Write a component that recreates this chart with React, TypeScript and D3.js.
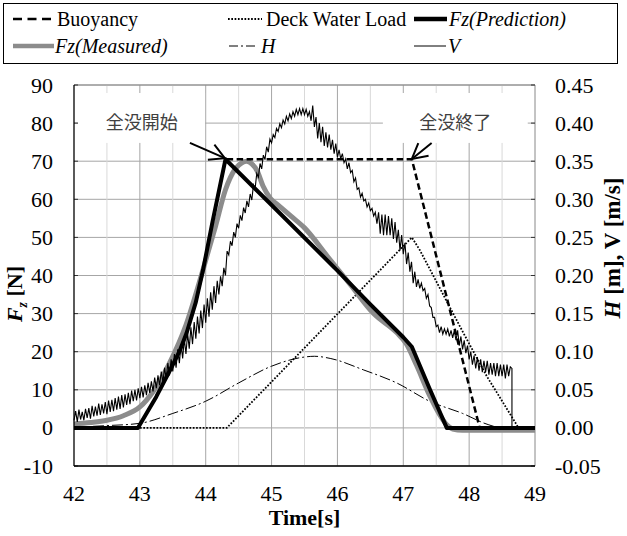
import React from "react";
import * as d3 from "d3";

// ---------------- data ----------------
const timeTicks = [42, 43, 44, 45, 46, 47, 48, 49];
const gridTimes = [42.5, 43, 43.5, 44, 44.5, 45, 45.5, 46, 46.5, 47, 47.5, 48, 48.5];
const forceTicks = [-10, 0, 10, 20, 30, 40, 50, 60, 70, 80, 90];
const rightTicks = [-0.05, 0, 0.05, 0.1, 0.15, 0.2, 0.25, 0.3, 0.35, 0.4, 0.45];

const buoyancyTime = [42, 42.97, 43.1, 43.25, 43.46, 43.6, 43.71, 43.85, 43.96, 44.1, 44.3, 47.13, 48.16, 49];
const buoyancyValue = [0, 0, 3.8, 8.2, 15.2, 20, 24.9, 33, 41.5, 53.8, 70.5, 70.5, 0, 0];

const deckTime = [42, 44.32, 47.13, 47.25, 47.91, 48.27, 48.52, 48.75, 49];
const deckValue = [0, 0, 50, 46.7, 25, 13.5, 6.5, 0, 0];

const predictionTime = [42, 42.97, 43.1, 43.25, 43.46, 43.6, 43.71, 43.85, 43.96, 44.1, 44.3, 45.0, 46.0, 46.5, 47.0, 47.13, 47.4, 47.66, 49];
const predictionValue = [0, 0, 3.8, 8.2, 15.2, 20, 24.9, 33, 41.5, 53.8, 70.5, 58.5, 41.3, 32.4, 23.8, 21.3, 10.3, 0, 0];

const measuredTime = [42, 42.25, 42.5, 42.75, 43, 43.2, 43.45, 43.7, 43.95, 44.15, 44.3, 44.45, 44.55, 44.62, 44.7, 44.78, 44.87, 44.98, 45.1, 45.3, 45.5, 45.85, 46.2, 46.55, 46.9, 47.05, 47.2, 47.4, 47.55, 47.66, 47.75, 47.9, 48.2, 49];
const measuredValue = [1, 1.4, 2, 3.2, 5.5, 9.5, 17, 27, 41, 53, 62.5, 68, 69.6, 70, 69.3, 67.5, 63.5, 60.3, 58.5, 55.5, 52.5, 45, 37.5, 30, 25, 22, 16.5, 8.5, 3.5, 0.8, -0.3, -0.6, -0.6, -0.6];

const hTime = [42, 42.5, 43, 43.5, 44, 44.5, 45, 45.5, 45.65, 45.9, 46.4, 46.9, 47.4, 47.9, 48.3, 48.5, 49];
const hValue = [0.001, 0.003, 0.006, 0.019, 0.035, 0.059, 0.081, 0.093, 0.094, 0.091, 0.076, 0.059, 0.035, 0.019, 0.004, 0.0, 0.0];

// V [m/s], sampled every 0.025 s from 42.000 s to 48.650 s
const vStart = 42;
const vStep = 0.025;
const vValue = [
  0.010, 0.022, 0.008, 0.024, 0.011, 0.021, 0.010, 0.025, 0.013, 0.026,
  0.012, 0.029, 0.015, 0.028, 0.016, 0.032, 0.017, 0.031, 0.019, 0.034,
  0.018, 0.036, 0.021, 0.037, 0.022, 0.039, 0.024, 0.041, 0.025, 0.043,
  0.027, 0.044, 0.030, 0.046, 0.031, 0.049, 0.035, 0.050, 0.036, 0.052,
  0.039, 0.054, 0.040, 0.056, 0.043, 0.059, 0.046, 0.061, 0.048, 0.066,
  0.052, 0.069, 0.056, 0.074, 0.060, 0.079, 0.064, 0.085, 0.069, 0.090,
  0.074, 0.097, 0.079, 0.103, 0.085, 0.110, 0.091, 0.117, 0.097, 0.124,
  0.104, 0.132, 0.110, 0.139, 0.117, 0.146, 0.124, 0.154, 0.131, 0.162,
  0.138, 0.170, 0.146, 0.178, 0.155, 0.186, 0.164, 0.193, 0.175, 0.199,
  0.186, 0.210, 0.200,
  // 44.325 - 45.000
  0.232, 0.227, 0.245, 0.239, 0.257, 0.250, 0.268, 0.262, 0.279, 0.272,
  0.289, 0.282, 0.298, 0.290, 0.307, 0.299, 0.319, 0.314, 0.334, 0.329,
  0.347, 0.340, 0.358, 0.352, 0.369, 0.362, 0.379, 0.374,
  // 45.025 - 45.500
  0.385, 0.381, 0.393, 0.389, 0.399, 0.394, 0.404, 0.399, 0.409, 0.403,
  0.412, 0.406, 0.415, 0.409, 0.418, 0.411, 0.419, 0.411, 0.419, 0.411,
  // 45.525 - 45.600
  0.418, 0.409, 0.415, 0.403,
  // 45.625 - 45.800
  0.423, 0.395, 0.408, 0.380, 0.400, 0.375, 0.395, 0.370,
  // 45.825 - 46.600
  0.388, 0.368, 0.385, 0.365,
  0.378, 0.360, 0.373, 0.355,
  0.365, 0.353, 0.360, 0.348,
  0.353, 0.340, 0.348, 0.335,
  0.338, 0.323, 0.328, 0.313,
  0.315, 0.303, 0.308, 0.298,
  0.300, 0.290, 0.295, 0.285,
  0.288, 0.278, 0.283, 0.268,
  // 46.625 - 47.200
  0.283, 0.255, 0.280, 0.253,
  0.280, 0.253, 0.278, 0.253,
  0.275, 0.248, 0.270, 0.243,
  0.260, 0.233, 0.253, 0.228,
  0.243, 0.215, 0.230, 0.205,
  0.218, 0.190, 0.205, 0.185,
  // 47.225 - 47.800
  0.195, 0.183, 0.190, 0.180,
  0.183, 0.170, 0.175, 0.160,
  0.158, 0.145, 0.145, 0.133,
  0.135, 0.125, 0.133, 0.123,
  0.130, 0.123, 0.130, 0.120,
  0.128, 0.118, 0.128, 0.115,
  // 47.825 - 48.650
  0.128, 0.108, 0.120, 0.103,
  0.115, 0.098, 0.108, 0.090,
  0.100, 0.083, 0.095, 0.078,
  0.093, 0.075, 0.090, 0.073,
  0.088, 0.073, 0.088, 0.070,
  0.085, 0.070, 0.085, 0.068,
  0.085, 0.068, 0.083, 0.068,
  0.083, 0.065, 0.083, 0.068,
  0.080, 0.078,
];
const vTailTime = [48.65, 49];
const vTailValue = [0, 0];

const annotations = [
  { label: "全没開始", textT: 43.03, textF: 80.4, boxT0: 42.06, boxT1: 43.99, boxF0: 74.8, boxF1: 87.9, fromT: 43.76, fromF: 74.8, toT: 44.29, toF: 70.8 },
  { label: "全没終了", textT: 47.79, textF: 80.4, boxT0: 46.69, boxT1: 48.89, boxF0: 74.8, boxF1: 87.9, fromT: 47.43, fromF: 74.8, toT: 47.13, toF: 70.6 },
];

// ---------------- chart ----------------
const SERIF = "'Liberation Serif', 'Times New Roman', 'DejaVu Serif', serif";
const CJK = "'Noto Sans CJK JP', 'Noto Sans CJK SC', sans-serif";

export default function App() {
  const x = d3.scaleLinear().domain([42, 49]).range([74, 535]);
  const yL = d3.scaleLinear().domain([-10, 90]).range([466, 85]);
  const yR = d3.scaleLinear().domain([-0.05, 0.45]).range([466, 85]);

  const mk = (ts: number[], vs: number[], y: d3.ScaleLinear<number, number>, curve: d3.CurveFactory = d3.curveLinear) =>
    d3.line<number>().x((_, i) => x(ts[i])).y((d) => y(d)).curve(curve)(vs) || "";

  const vTimes = vValue.map((_, i) => vStart + i * vStep).concat(vTailTime);
  const vAll = vValue.concat(vTailValue);

  const buoyancyPath = mk(buoyancyTime, buoyancyValue, yL);
  const deckPath = mk(deckTime, deckValue, yL);
  const predPath = mk(predictionTime, predictionValue, yL);
  const measPath = mk(measuredTime, measuredValue, yL, d3.curveMonotoneX);
  const hPath = mk(hTime, hValue, yR, d3.curveMonotoneX);
  const vPath = mk(vTimes, vAll, yR);

  const [x0, x1] = x.range();
  const [yb, yt] = yL.range();

  const arrowHead = (fx: number, fy: number, tx: number, ty: number) => {
    const a = Math.atan2(ty - fy, tx - fx);
    const L = 17, s = 0.5;
    const p1 = [tx - L * Math.cos(a - s), ty - L * Math.sin(a - s)];
    const p2 = [tx - L * Math.cos(a + s), ty - L * Math.sin(a + s)];
    return `M${p1[0]},${p1[1]}L${tx},${ty}L${p2[0]},${p2[1]}`;
  };

  const serif = (size: number, extra: React.CSSProperties = {}): React.CSSProperties => ({ fontFamily: SERIF, fontSize: size, ...extra });

  return (
    <svg width={627} height={536} style={{ position: "absolute", left: 0, top: 0, background: "#fff" }}>
      <rect x={0} y={0} width={627} height={536} fill="#fff" />
      {/* legend */}
      <g fill="#000">
        <rect x={3.5} y={3.5} width={614} height={60} fill="#fff" stroke="#000" strokeWidth={1} />
        <line x1={13} x2={51} y1={19} y2={19} stroke="#000" strokeWidth={2.5} strokeDasharray="9,5.5" />
        <text x={57} y={26} style={serif(20)}>Buoyancy</text>
        <line x1={228} x2={262} y1={19} y2={19} stroke="#000" strokeWidth={1.8} strokeDasharray="1.7,1.6" />
        <text x={266} y={26} style={serif(20)}>Deck Water Load</text>
        <line x1={414} x2={447} y1={19} y2={19} stroke="#000" strokeWidth={4.5} />
        <text x={449} y={26} style={serif(20, { fontStyle: "italic" })}>Fz(Prediction)</text>
        <line x1={13} x2={54} y1={46} y2={46} stroke="#8c8c8c" strokeWidth={4.5} />
        <text x={55} y={53} style={serif(20, { fontStyle: "italic" })}>Fz(Measured)</text>
        <line x1={229} x2={258} y1={46} y2={46} stroke="#000" strokeWidth={1} strokeDasharray="9,3,2,3" />
        <text x={261} y={53} style={serif(20, { fontStyle: "italic" })}>H</text>
        <line x1={414} x2={446} y1={46} y2={46} stroke="#000" strokeWidth={1} />
        <text x={448} y={53} style={serif(20, { fontStyle: "italic" })}>V</text>
      </g>

      {/* grid */}
      <g>
        {forceTicks.map((t) => (
          <line key={"h" + t} x1={x0} x2={x1} y1={yL(t)} y2={yL(t)} stroke="#a6a6a6" strokeWidth={1} />
        ))}
        {gridTimes.map((t) => (
          <line key={"v" + t} x1={x(t)} x2={x(t)} y1={yt} y2={yb} stroke={Number.isInteger(t) ? "#a6a6a6" : "#d9d9d9"} strokeWidth={1} />
        ))}
      </g>

      {/* annotation boxes */}
      {annotations.map((a) => (
        <rect key={"b" + a.label} x={x(a.boxT0)} y={yL(a.boxF1)} width={x(a.boxT1) - x(a.boxT0)} height={yL(a.boxF0) - yL(a.boxF1)} fill="#fff" />
      ))}

      {/* frame */}
      <line x1={x1} x2={x1} y1={yt} y2={yb} stroke="#888" strokeWidth={1} />
      <line x1={x0} x2={x1} y1={yt} y2={yt} stroke="#888" strokeWidth={1} />
      {forceTicks.map((t) => (
        <g key={"tk" + t}>
          <line x1={x0} x2={x0 + 4} y1={yL(t)} y2={yL(t)} stroke="#333" />
          <line x1={x1 - 4} x2={x1} y1={yL(t)} y2={yL(t)} stroke="#333" />
        </g>
      ))}

      {/* series */}
      <path d={hPath} fill="none" stroke="#000" strokeWidth={1} strokeDasharray="11,3,2,3" />
      <path d={deckPath} fill="none" stroke="#000" strokeWidth={1.8} strokeDasharray="1.7,1.6" />
      <path d={measPath} fill="none" stroke="#8c8c8c" strokeWidth={5} strokeLinejoin="round" />
      <path d={vPath} fill="none" stroke="#000" strokeWidth={1.1} />
      <path d={predPath} fill="none" stroke="#000" strokeWidth={4} strokeLinejoin="round" />
      <path d={buoyancyPath} fill="none" stroke="#000" strokeWidth={2.5} strokeDasharray="6.5,3.5" />

      <line x1={x0} x2={x0} y1={yt} y2={yb} stroke="#000" strokeWidth={1.3} />
      <line x1={x0} x2={x1} y1={yb} y2={yb} stroke="#000" strokeWidth={1.3} />

      {/* annotations */}
      {annotations.map((a) => {
        const fx = x(a.fromT), fy = yL(a.fromF), tx = x(a.toT), ty = yL(a.toF);
        return (
          <g key={"a" + a.label}>
            <text x={x(a.textT)} y={yL(a.textF) + 7} textAnchor="middle" style={{ fontFamily: CJK, fontSize: 18 }} fill="#404040">{a.label}</text>
            <line x1={fx} y1={fy} x2={tx} y2={ty} stroke="#000" strokeWidth={2} />
            <path d={arrowHead(fx, fy, tx, ty)} fill="none" stroke="#000" strokeWidth={2} />
          </g>
        );
      })}

      {/* tick labels */}
      <g fill="#000">
        {forceTicks.map((t) => (
          <text key={"lt" + t} x={53} y={yL(t) + 7.5} textAnchor="end" style={serif(22)}>{t}</text>
        ))}
        {rightTicks.map((t) => (
          <text key={"rt" + t} x={555} y={yR(t) + 7.5} textAnchor="start" style={serif(22)}>{t.toFixed(2)}</text>
        ))}
        {timeTicks.map((t) => (
          <text key={"xt" + t} x={x(t)} y={501} textAnchor="middle" style={serif(22)}>{t}</text>
        ))}
      </g>

      {/* axis titles */}
      <text x={(x0 + x1) / 2} y={525} textAnchor="middle" style={serif(22, { fontWeight: "bold" })}>Time[s]</text>
      <text transform={`translate(22,294) rotate(-90)`} textAnchor="middle" style={serif(22, { fontWeight: "bold" })}>
        <tspan style={{ fontStyle: "italic" }}>F</tspan>
        <tspan style={{ fontStyle: "italic", fontSize: 14 }} dy={5}>z</tspan>
        <tspan dy={-5}> [N]</tspan>
      </text>
      <text transform={`translate(620,248) rotate(-90)`} textAnchor="middle" style={serif(23, { fontWeight: "bold" })}>
        <tspan style={{ fontStyle: "italic" }}>H</tspan>
        <tspan> [m], V [m/s]</tspan>
      </text>
    </svg>
  );
}
